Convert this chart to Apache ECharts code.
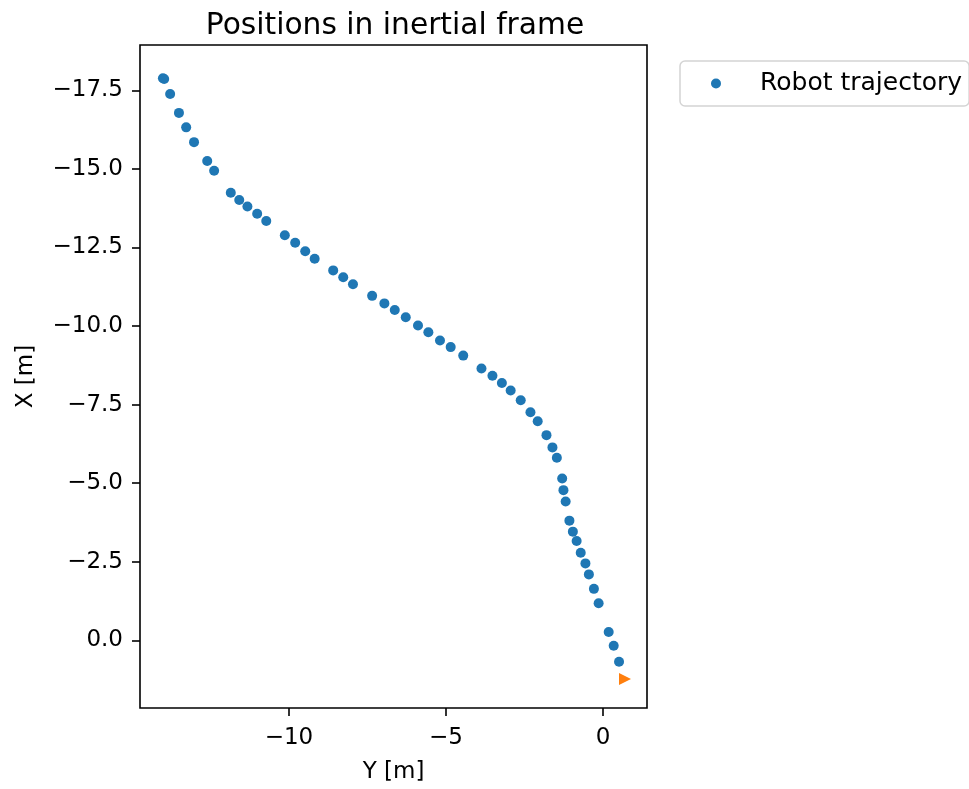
<!DOCTYPE html>
<html>
<head>
<meta charset="utf-8">
<script src="https://cdn.jsdelivr.net/npm/echarts@6/dist/echarts.min.js"></script>
<style>html,body{margin:0;padding:0;background:#fff}#c{width:969px;height:789px}</style>
</head>
<body>
<div id="c"></div>
<script>
// Horizontal axis: "Y [m]", vertical axis (inverted): "X [m]"
const trajY = [-14.01, -13.97, -13.78, -13.50, -13.27, -13.02, -12.60, -12.38, -11.85, -11.58, -11.32, -11.01, -10.72, -10.13, -9.80, -9.48, -9.18, -8.59, -8.27, -7.96, -7.35, -6.96, -6.63, -6.28, -5.89, -5.56, -5.19, -4.85, -4.45, -3.87, -3.52, -3.22, -2.94, -2.62, -2.31, -2.08, -1.80, -1.61, -1.47, -1.30, -1.26, -1.19, -1.07, -0.96, -0.84, -0.71, -0.56, -0.45, -0.29, -0.14, 0.18, 0.34, 0.51];
const trajX = [-17.88, -17.86, -17.38, -16.78, -16.32, -15.85, -15.25, -14.94, -14.24, -14.01, -13.80, -13.57, -13.34, -12.89, -12.65, -12.38, -12.14, -11.77, -11.55, -11.33, -10.96, -10.72, -10.51, -10.28, -10.02, -9.80, -9.54, -9.33, -9.06, -8.65, -8.42, -8.19, -7.95, -7.64, -7.26, -6.97, -6.53, -6.14, -5.81, -5.15, -4.78, -4.42, -3.81, -3.46, -3.16, -2.79, -2.45, -2.10, -1.64, -1.18, -0.27, 0.17, 0.68];
const goalY = [0.70];
const goalX = [1.23];
const hTicks = [-10, -5, 0];
const vTicks = [-17.5, -15.0, -12.5, -10.0, -7.5, -5.0, -2.5, 0.0];

const FONT = 'DejaVu Sans';
const minus = s => s.replace('-', '\u2212');
const trajData = trajY.map((v, i) => [v, trajX[i]]);
const goalData = goalY.map((v, i) => [v, goalX[i]]);

const chart = echarts.init(document.getElementById('c'), null, {renderer: 'canvas'});
chart.setOption({
  animation: false,
  backgroundColor: '#fff',
  textStyle: {fontFamily: FONT},
  title: {
    text: 'Positions in inertial frame',
    left: 390, top: 6, textAlign: 'center',
    textStyle: {fontFamily: FONT, fontSize: 29.7, fontWeight: 'normal', color: '#000'}
  },
  legend: {
    data: ['Robot trajectory'],
    left: 680, top: 61,
    orient: 'vertical',
    padding: [10, 7, 10, 31],
    itemWidth: 78, itemHeight: 10,
    borderColor: '#d4d4d4', borderWidth: 1.5, borderRadius: 5,
    backgroundColor: '#fff',
    textStyle: {fontFamily: FONT, fontSize: 25, color: '#000'}
  },
  grid: {
    left: 140, top: 45, width: 507, height: 663,
    show: true, borderColor: '#000', borderWidth: 1.6, backgroundColor: 'transparent',
    containLabel: false
  },
  xAxis: {
    type: 'value', min: -14.74, max: 1.40,
    name: 'Y [m]', nameLocation: 'middle', nameGap: 53,
    nameTextStyle: {fontFamily: FONT, fontSize: 23, color: '#000'},
    axisLine: {show: false, onZero: false},
    splitLine: {show: false},
    axisTick: {show: true, customValues: hTicks, length: 8, inside: false, lineStyle: {color: '#000', width: 1.6}},
    axisLabel: {customValues: hTicks, margin: 19, fontFamily: FONT, fontSize: 23, color: '#000',
      formatter: v => minus(String(v))}
  },
  yAxis: {
    type: 'value', min: -18.94, max: 2.15, inverse: true,
    name: 'X [m]', nameLocation: 'middle', nameGap: 102,
    nameTextStyle: {fontFamily: FONT, fontSize: 23, color: '#000'},
    axisLine: {show: false, onZero: false},
    splitLine: {show: false},
    axisTick: {show: true, customValues: vTicks, length: 8, inside: false, lineStyle: {color: '#000', width: 1.6}},
    axisLabel: {customValues: vTicks, margin: 17, padding: [6, 0, 0, 0], fontFamily: FONT, fontSize: 23, color: '#000',
      formatter: v => minus(Number(v).toFixed(1))}
  },
  series: [
    {
      name: 'Robot trajectory', type: 'scatter', data: trajData,
      symbol: 'circle', symbolSize: 10,
      itemStyle: {color: '#1f77b4', opacity: 1},
      emphasis: {disabled: true}
    },
    {
      name: 'Goal', type: 'scatter', data: goalData,
      symbol: 'triangle', symbolSize: 12, symbolRotate: -90,
      itemStyle: {color: '#ff7f0e', opacity: 1},
      emphasis: {disabled: true}
    }
  ]
});
</script>
</body>
</html>
